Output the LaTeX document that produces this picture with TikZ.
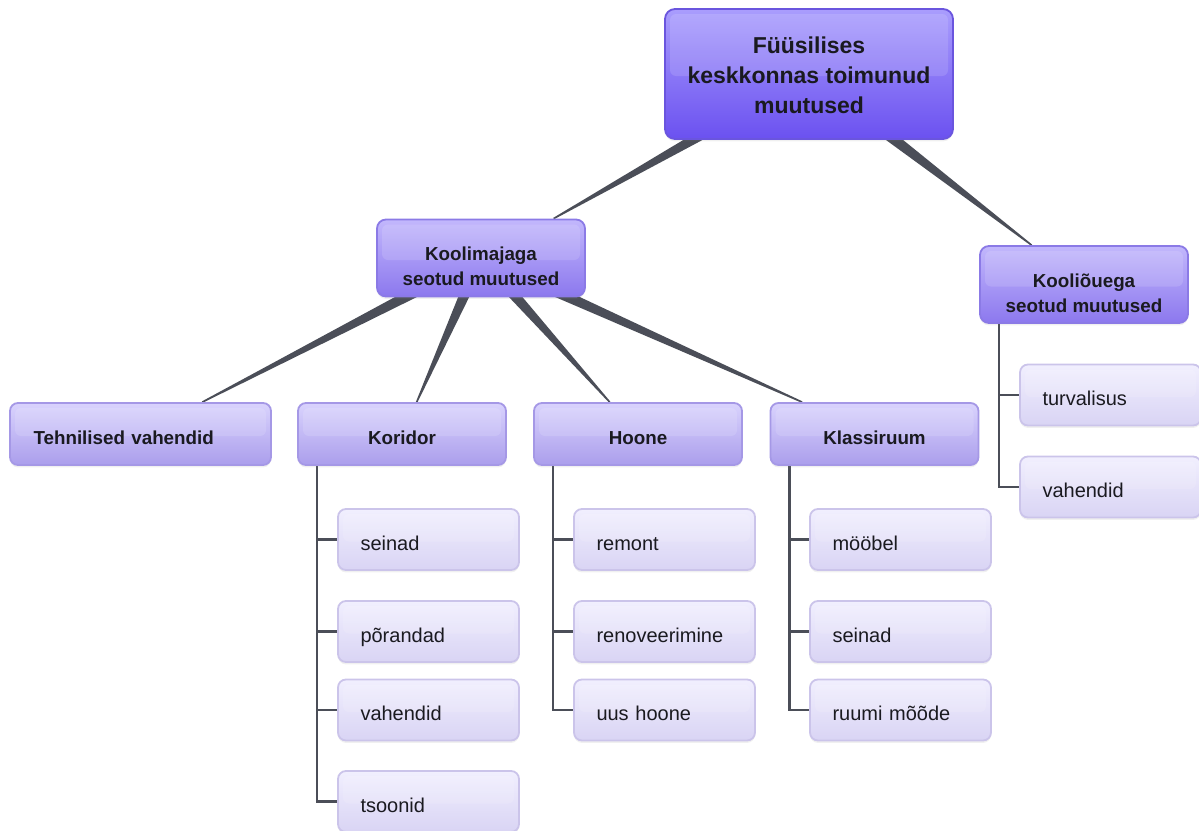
\documentclass[tikz,border=0pt]{standalone}
\usepackage{fontspec}
\setmainfont{Liberation Sans}
\usetikzlibrary{calc,backgrounds,shadows}
\definecolor{rootTop}{HTML}{A99DFD}
\definecolor{rootBot}{HTML}{6B51F0}
\definecolor{rootLine}{HTML}{6A55DE}
\definecolor{midTop}{HTML}{C2B7FC}
\definecolor{midBot}{HTML}{8C78EE}
\definecolor{midLine}{HTML}{8B7AE6}
\definecolor{subTop}{HTML}{D9D3FD}
\definecolor{subBot}{HTML}{AB9EEC}
\definecolor{subLine}{HTML}{A598E6}
\definecolor{leafTop}{HTML}{F1EFFE}
\definecolor{leafBot}{HTML}{D9D4F4}
\definecolor{leafLine}{HTML}{CBC4EA}
\definecolor{wire}{HTML}{4B4E58}
\definecolor{txt}{HTML}{1A1A20}
\newcommand{\lowerbox}[2]{\raisebox{#1}[\height][\depth]{\begin{tabular}{@{}c@{}}#2\end{tabular}}}
\newcommand{\taper}[4]{% parent, child, fraction, half width at parent
  \coordinate (tp) at ($(#2.north west)!#3!(#2.north east)$);
  \fill[wire] ($(#1.center)!#4!90:(tp)$) -- ($(tp)!0.4pt!-90:(#1.center)$)
    -- ($(tp)!0.4pt!90:(#1.center)$) -- ($(#1.center)!#4!-90:(tp)$) -- cycle;}
\tikzset{
  box/.style={rectangle, rounded corners=4pt, line width=0.9pt, inner sep=0pt, text=txt,
    drop shadow={opacity=0.12, shadow xshift=0pt, shadow yshift=-1.2pt},
    path picture={\fill[white,opacity=0.13,rounded corners=3pt]
      ([xshift=2.5pt,yshift=-2.5pt]path picture bounding box.north west) rectangle
      ([xshift=-2.5pt,yshift=-1pt]path picture bounding box.east);}},
  rootbox/.style={box, rounded corners=5pt, top color=rootTop, bottom color=rootBot, draw=rootLine,
    minimum width=144pt, minimum height=65pt,
    font=\bfseries\fontsize{11.5}{15}\selectfont},
  midbox/.style={box, rounded corners=4.5pt, top color=midTop, bottom color=midBot, draw=midLine,
    minimum width=104pt, minimum height=38.5pt,
    font=\bfseries\fontsize{9.4}{12.5}\selectfont},
  subbox/.style={box, top color=subTop, bottom color=subBot, draw=subLine,
    minimum width=104pt, minimum height=31pt, text height=10.3pt, text depth=0pt,
    font=\bfseries\fontsize{9.4}{12}\selectfont},
  subleft/.style={subbox, minimum width=130.5pt, text width=107pt, inner xsep=11.5pt, align=left},
  leafbox/.style={box, top color=leafTop, bottom color=leafBot, draw=leafLine,
    minimum width=90.5pt, minimum height=30.5pt, text width=68pt, inner xsep=11pt,
    text height=10.5pt, text depth=0pt, align=left, font=\fontsize{10}{12}\selectfont},
  tree/.style={draw=wire, line width=1.2pt},
}
\begin{document}
\begin{tikzpicture}[x=0.5pt,y=-0.5pt]
\useasboundingbox (0,0) rectangle (1199,830);
% nodes
\node[rootbox] (root) at (809,74) {\lowerbox{-1.5pt}{Füüsilises\\keskkonnas toimunud\\muutused}};
\node[midbox] (kA) at (481,258) {\lowerbox{-5pt}{Koolimajaga\\seotud muutused}};
\node[midbox] (kB) at (1084,284.5) {\lowerbox{-5pt}{Kooliõuega\\seotud muutused}};
\node[subleft] (tv) at (140.5,434) {Tehnilised vahendid};
\node[subbox] (kor) at (402,434) {Koridor};
\node[subbox] (hoo) at (638,434) {Hoone};
\node[subbox] (kla) at (874.5,434) {Klassiruum};
% Koridor leaves
\node[leafbox] (kor1) at (428.5,539.5) {seinad};
\node[leafbox] (kor2) at (428.5,631.5) {põrandad};
\node[leafbox] (kor3) at (428.5,710) {vahendid};
\node[leafbox] (kor4) at (428.5,801.5) {tsoonid};
% Hoone leaves
\node[leafbox] (hoo1) at (664.5,539.5) {remont};
\node[leafbox] (hoo2) at (664.5,631.5) {renoveerimine};
\node[leafbox] (hoo3) at (664.5,710) {uus hoone};
% Klassiruum leaves
\node[leafbox] (kla1) at (900.5,539.5) {mööbel};
\node[leafbox] (kla2) at (900.5,631.5) {seinad};
\node[leafbox] (kla3) at (900.5,710) {ruumi mõõde};
% Kooliõuega leaves
\node[leafbox] (kB1) at (1110.5,395) {turvalisus};
\node[leafbox] (kB2) at (1110.5,487) {vahendid};
% connectors
\begin{scope}[on background layer]
\taper{root}{kA}{0.846}{4pt}
\taper{root}{kB}{0.25}{4pt}
\taper{kA}{tv}{0.735}{3.3pt}
\taper{kA}{kor}{0.57}{3.3pt}
\taper{kA}{hoo}{0.365}{3.3pt}
\taper{kA}{kla}{0.155}{3.3pt}
\draw[tree] ([xshift=10pt]kor.south west) |- (kor1.west);
\draw[tree] ([xshift=10pt]kor.south west) |- (kor2.west);
\draw[tree] ([xshift=10pt]kor.south west) |- (kor3.west);
\draw[tree] ([xshift=10pt]kor.south west) |- (kor4.west);
\draw[tree] ([xshift=10pt]hoo.south west) |- (hoo1.west);
\draw[tree] ([xshift=10pt]hoo.south west) |- (hoo2.west);
\draw[tree] ([xshift=10pt]hoo.south west) |- (hoo3.west);
\draw[tree] ([xshift=10pt]kla.south west) |- (kla1.west);
\draw[tree] ([xshift=10pt]kla.south west) |- (kla2.west);
\draw[tree] ([xshift=10pt]kla.south west) |- (kla3.west);
\draw[tree] ([xshift=10pt]kB.south west) |- (kB1.west);
\draw[tree] ([xshift=10pt]kB.south west) |- (kB2.west);
\end{scope}
\end{tikzpicture}
\end{document}
